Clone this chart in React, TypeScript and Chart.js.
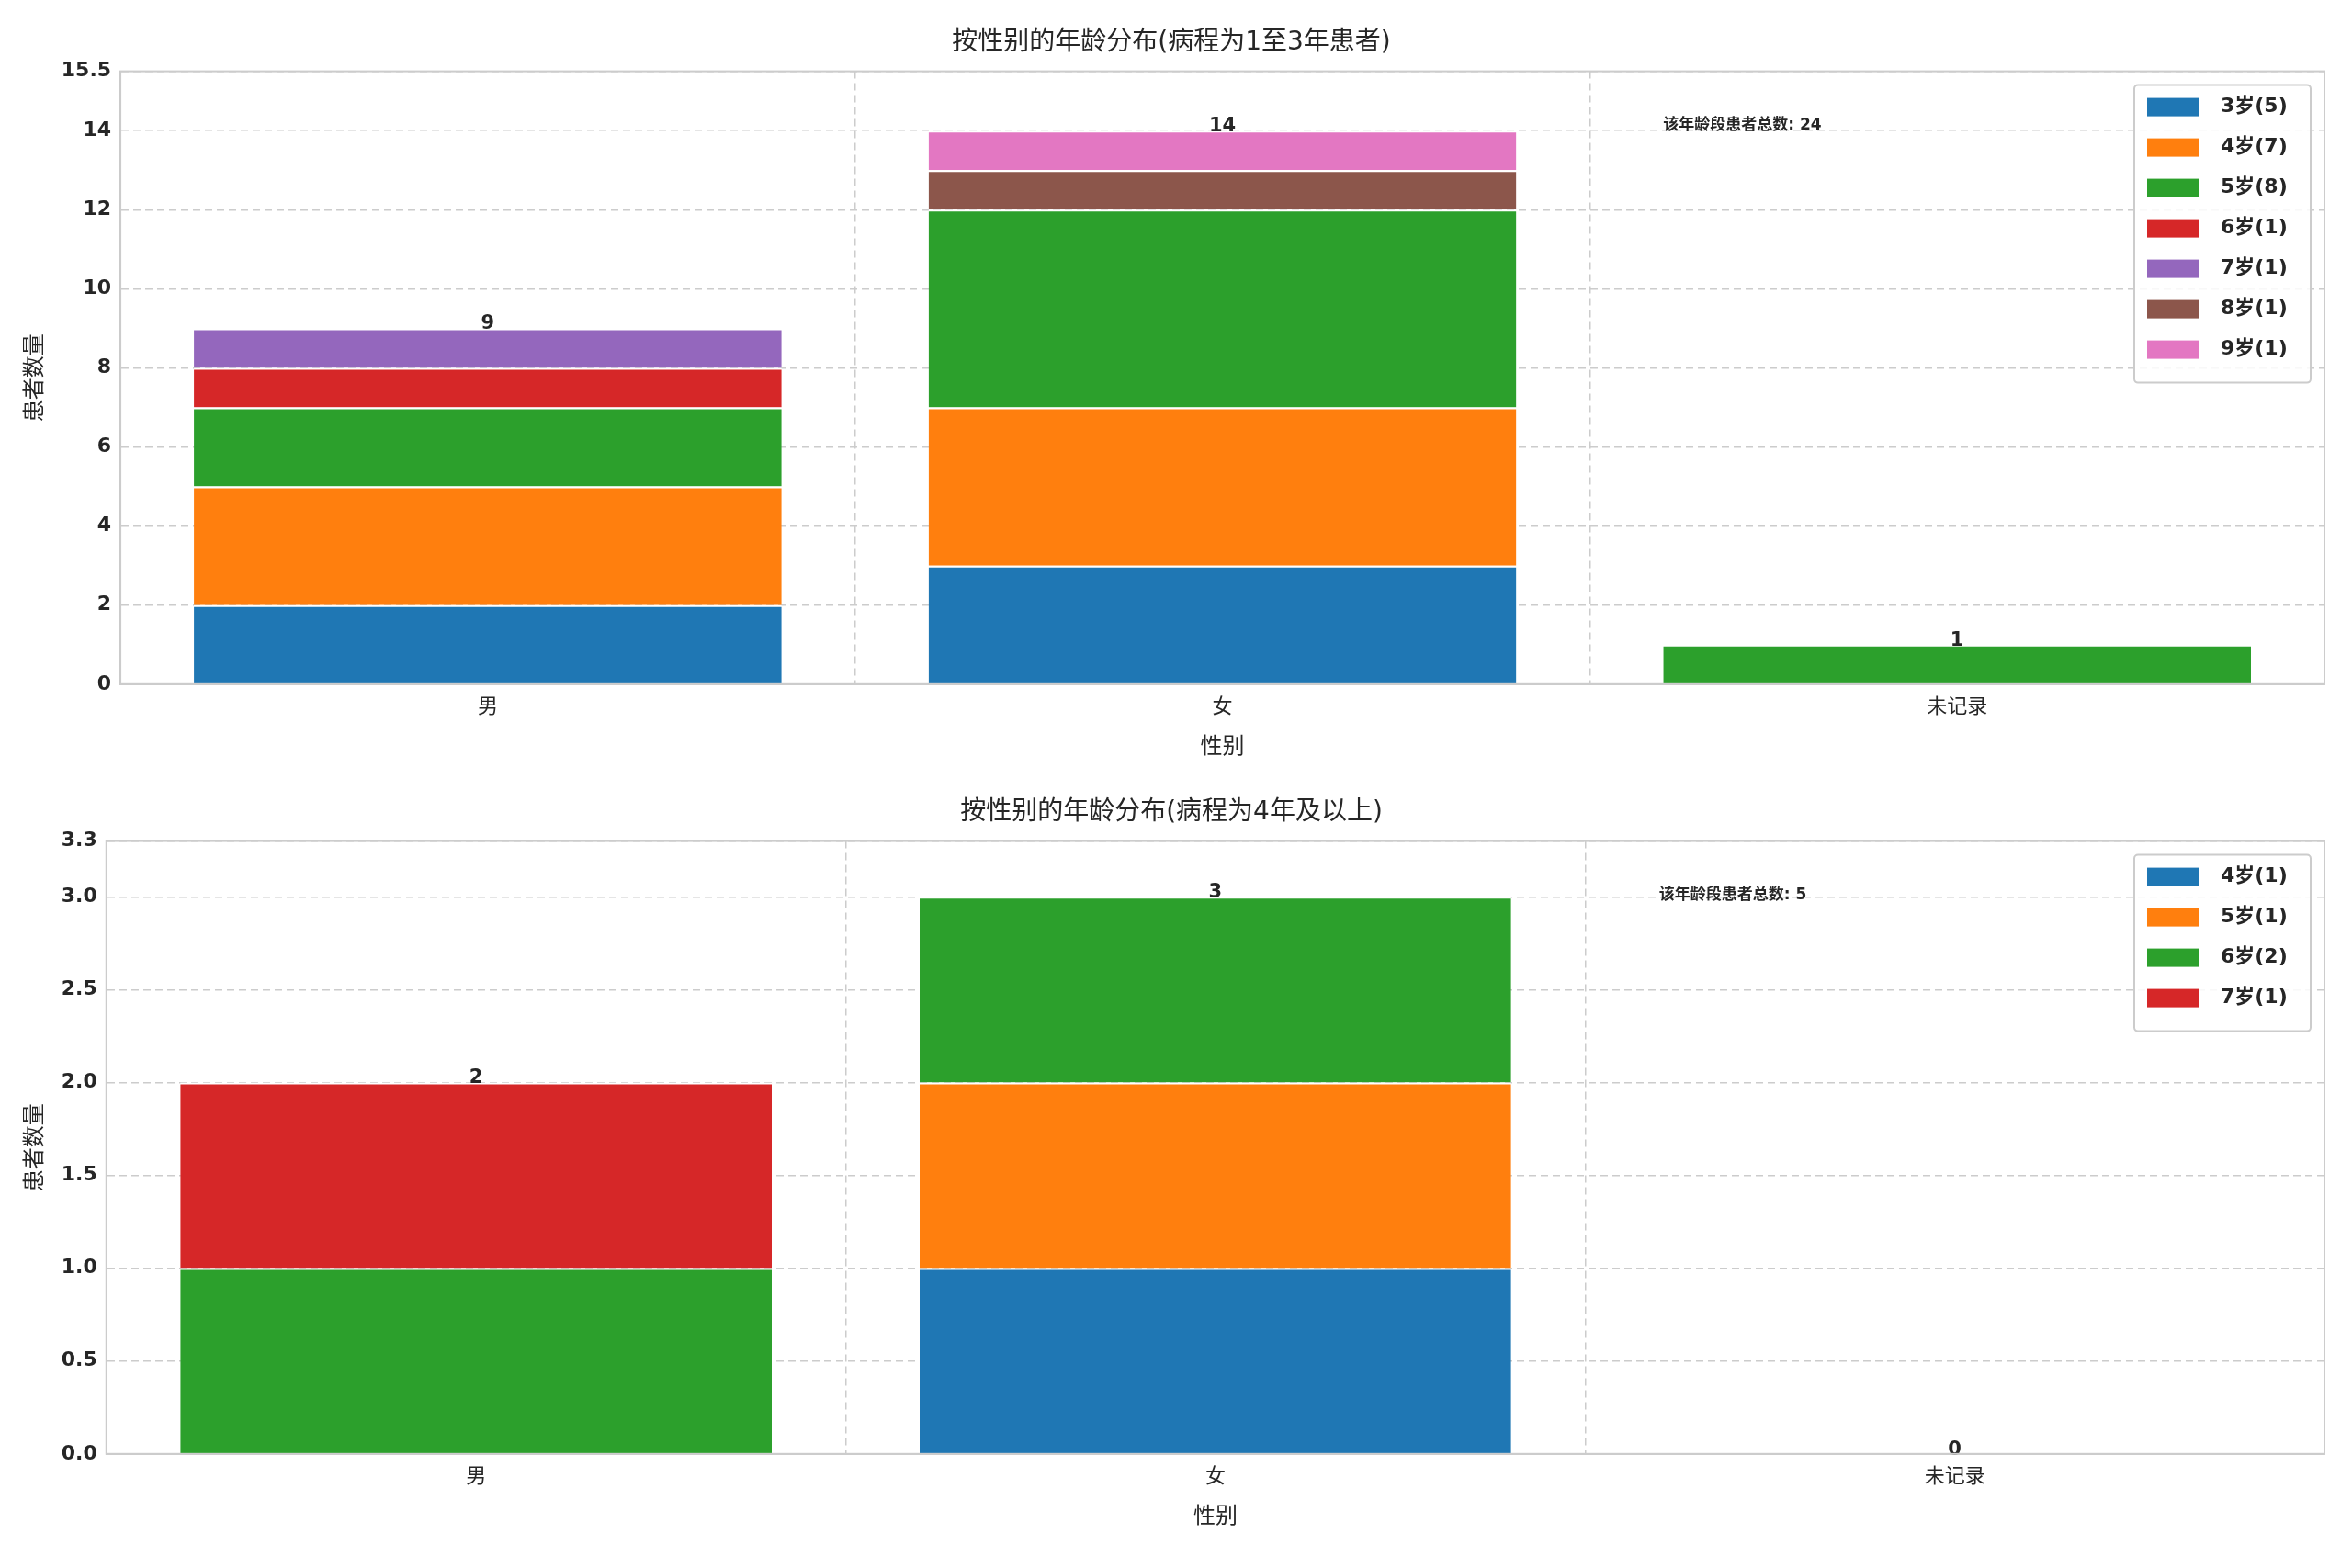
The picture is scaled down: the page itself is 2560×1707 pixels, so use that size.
import React, { useEffect, useRef } from "react";
import { Chart, registerables } from "chart.js";
Chart.register(...registerables);

const categories = ["男", "女", "未记录"];
const title1 = "按性别的年龄分布(病程为1至3年患者)";
const title2 = "按性别的年龄分布(病程为4年及以上)";
const note1 = "该年龄段患者总数: 24";
const note2 = "该年龄段患者总数: 5";
const colors = ["#1f77b4", "#ff7f0e", "#2ca02c", "#d62728", "#9467bd", "#8c564b", "#e377c2"];
const top_ages = ["3岁(5)", "4岁(7)", "5岁(8)", "6岁(1)", "7岁(1)", "8岁(1)", "9岁(1)"];
const top_values = [
  [2, 3, 0],
  [3, 4, 0],
  [2, 5, 1],
  [1, 0, 0],
  [1, 0, 0],
  [0, 1, 0],
  [0, 1, 0],
];
const bot_ages = ["4岁(1)", "5岁(1)", "6岁(2)", "7岁(1)"];
const bot_values = [
  [0, 1, 0],
  [0, 1, 0],
  [1, 1, 0],
  [1, 0, 0],
];

const FONT = "'DejaVu Sans', 'Noto Sans CJK SC', sans-serif";

function makeChart(canvas: HTMLCanvasElement, title: string, note: string, ages: string[], values: number[][], ymax: number, step: number) {
  const overlay = {
    id: "overlay",
    afterDatasetsDraw(chart: any) {
      const ctx = chart.ctx;
      const xs = chart.scales.x, ys = chart.scales.y;
      const ca = chart.chartArea;
      ctx.save();
      ctx.fillStyle = "#262626";
      ctx.font = `bold 21px ${FONT}`;
      ctx.textAlign = "center";
      ctx.textBaseline = "bottom";
      categories.forEach((_, i) => {
        const tot = values.reduce((s, r) => s + r[i], 0);
        ctx.fillText(String(tot), xs.getPixelForValue(i), ys.getPixelForValue(tot) + 6);
      });
      ctx.font = `bold 17px ${FONT}`;
      ctx.textAlign = "left";
      ctx.textBaseline = "middle";
      ctx.fillText(note, ca.left + 0.7 * (ca.right - ca.left), ca.bottom - 0.912 * (ca.bottom - ca.top));
      // legend
      const rowH = 44;
      const bw = 192, bh = ages.length * rowH + 16;
      const bx = ca.right - bw - 15, by = ca.top + 15;
      ctx.fillStyle = "rgba(255,255,255,0.85)";
      ctx.strokeStyle = "#cccccc";
      ctx.lineWidth = 2;
      ctx.beginPath();
      ctx.roundRect(bx, by, bw, bh, 4);
      ctx.fill();
      ctx.stroke();
      ctx.font = `bold 22px ${FONT}`;
      ages.forEach((a, i) => {
        const cy = by + 24 + i * rowH;
        ctx.fillStyle = colors[i];
        ctx.fillRect(bx + 14, cy - 10, 56, 20);
        ctx.fillStyle = "#262626";
        ctx.fillText(a, bx + 94, cy);
      });
      ctx.restore();
    },
  };
  const grid = { color: "#cccccc", lineWidth: 1.5, tickLength: 0 };
  return new Chart(canvas, {
    type: "bar",
    data: {
      labels: categories,
      datasets: ages.map((a, k) => ({
        label: a,
        data: values[k],
        backgroundColor: colors[k],
        borderColor: "#ffffff",
        borderWidth: { top: 2, bottom: 0, left: 0, right: 0 },
        borderSkipped: false,
        categoryPercentage: 1,
        barPercentage: 0.8,
      })),
    },
    options: {
      animation: false,
      responsive: false,
      maintainAspectRatio: false,
      devicePixelRatio: 1,
      layout: { padding: { left: 20, right: 30, top: 10, bottom: 10 } },
      plugins: {
        legend: { display: false },
        tooltip: { enabled: false },
        title: { display: true, text: title, color: "#262626", font: { family: FONT, size: 28, weight: "normal" }, padding: { top: 20, bottom: 14 } },
      },
      scales: {
        x: {
          stacked: true,
          grid: { ...grid },
          border: { color: "#cccccc", width: 2, dash: [8, 5] },
          ticks: { color: "#262626", font: { family: FONT, size: 22 }, padding: 12 },
          title: { display: true, text: "性别", color: "#262626", font: { family: FONT, size: 24 }, padding: { top: 4 } },
        },
        y: {
          stacked: true,
          min: 0,
          max: ymax,
          grid: { ...grid },
          border: { color: "#cccccc", width: 2, dash: [8, 5] },
          ticks: {
            stepSize: step,
            color: "#262626",
            font: { family: FONT, size: 22, weight: "bold" },
            padding: 10,
            callback: (v: any) => (step < 1 ? Number(v).toFixed(1) : String(v)),
          },
          title: { display: true, text: "患者数量", color: "#262626", font: { family: FONT, size: 24 } },
        },
      },
    },
    plugins: [overlay, {
      id: "frame",
      afterDraw(chart: any) {
        const { ctx, chartArea: ca } = chart;
        ctx.save();
        ctx.strokeStyle = "#cccccc";
        ctx.lineWidth = 2;
        ctx.strokeRect(ca.left, ca.top, ca.right - ca.left, ca.bottom - ca.top);
        ctx.restore();
      },
    }],
  } as any);
}

export default function App() {
  const r1 = useRef<HTMLCanvasElement>(null);
  const r2 = useRef<HTMLCanvasElement>(null);
  useEffect(() => {
    const c1 = makeChart(r1.current!, title1, note1, top_ages, top_values, 15.5, 2);
    const c2 = makeChart(r2.current!, title2, note2, bot_ages, bot_values, 3.3, 0.5);
    return () => { c1.destroy(); c2.destroy(); };
  }, []);
  return (
    <div style={{ position: "absolute", left: 0, top: 0, width: 2560, height: 1707, background: "#fff" }}>
      <canvas ref={r1} width={2560} height={842} style={{ position: "absolute", left: 0, top: 0 }} />
      <canvas ref={r2} width={2560} height={842} style={{ position: "absolute", left: 0, top: 838 }} />
    </div>
  );
}
